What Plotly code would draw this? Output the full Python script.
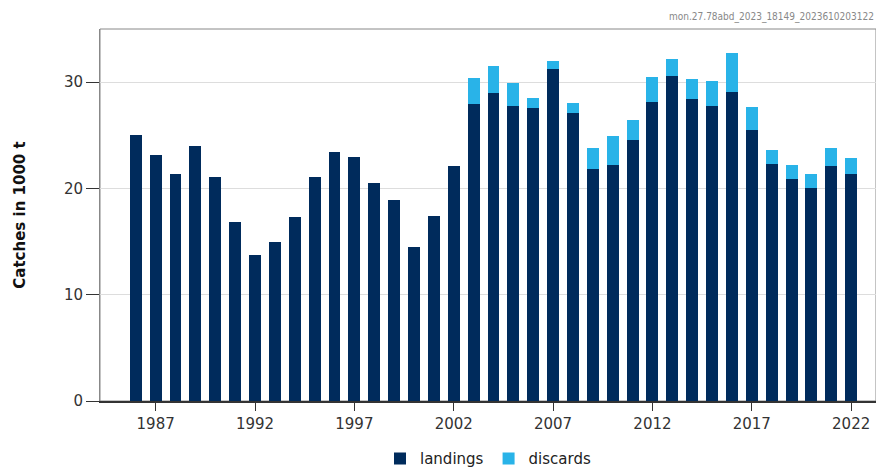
import plotly.graph_objects as go

years = list(range(1986, 2023))
landings = [25.0, 23.1, 21.4, 24.0, 21.1, 16.8, 13.7, 15.0, 17.3, 21.1,
            23.4, 23.0, 20.5, 18.9, 14.5, 17.4, 22.1, 27.9, 29.0, 27.8,
            27.6, 31.2, 27.1, 21.8, 22.2, 24.6, 28.1, 30.6, 28.4, 27.8,
            29.1, 25.5, 22.3, 20.9, 20.0, 22.1, 21.4]
discards = [0, 0, 0, 0, 0, 0, 0, 0, 0, 0,
            0, 0, 0, 0, 0, 0, 0, 2.5, 2.5, 2.1,
            0.9, 0.8, 0.9, 2.0, 2.7, 1.8, 2.4, 1.6, 1.9, 2.3,
            3.6, 2.2, 1.3, 1.3, 1.4, 1.7, 1.5]
tick_years = [1987, 1992, 1997, 2002, 2007, 2012, 2017, 2022]

fig = go.Figure()
fig.add_bar(x=years, y=landings, name="landings", marker_color="#002b5c",
            width=0.6, marker_line_width=0)
fig.add_bar(x=years, y=discards, name="discards", marker_color="#29b3e8",
            width=0.6, marker_line_width=0)

# page body has an 8px margin, so the figure is sized to fit the window
fig.update_layout(
    barmode="stack",
    width=876, height=468,
    margin=dict(l=92, r=8, t=21, b=75, autoexpand=False),
    plot_bgcolor="white", paper_bgcolor="white",
    font=dict(family="DejaVu Sans", color="#333333", size=14),
    legend=dict(orientation="h", x=0.5, xanchor="center", y=-0.155, yanchor="middle",
                traceorder="normal", font=dict(size=15, color="#222222")),
    xaxis=dict(range=[1984.2, 2023.25], tickvals=tick_years, ticks="outside",
               ticklen=8, tickcolor="#333333", showline=True, linecolor="#333333",
               linewidth=1.5, showgrid=False, automargin=False,
               tickfont=dict(size=15, color="#333333")),
    yaxis=dict(range=[0, 35], tickvals=[0, 10, 20, 30], ticks="outside",
               ticklen=13, tickcolor="#333333", showline=True, linecolor="#888888",
               linewidth=1, showgrid=True, gridcolor="#dddddd", zeroline=False,
               automargin=False, tickfont=dict(size=15, color="#333333"),
               title=dict(text="<b>Catches in 1000 t</b>", font=dict(size=15, color="#111111"),
                          standoff=34)),
    annotations=[dict(text="mon.27.78abd_2023_18149_2023610203122", xref="paper",
                      yref="paper", x=1, y=1, xanchor="right", yanchor="bottom",
                      yshift=4, showarrow=False,
                      font=dict(family="DejaVu Sans Condensed", size=10, color="#888888"))],
    shapes=[dict(type="rect", xref="paper", yref="paper", x0=0, x1=1, y0=0, y1=1,
                 line=dict(color="#888888", width=1), layer="below")],
)

fig.write_html("out.html")
